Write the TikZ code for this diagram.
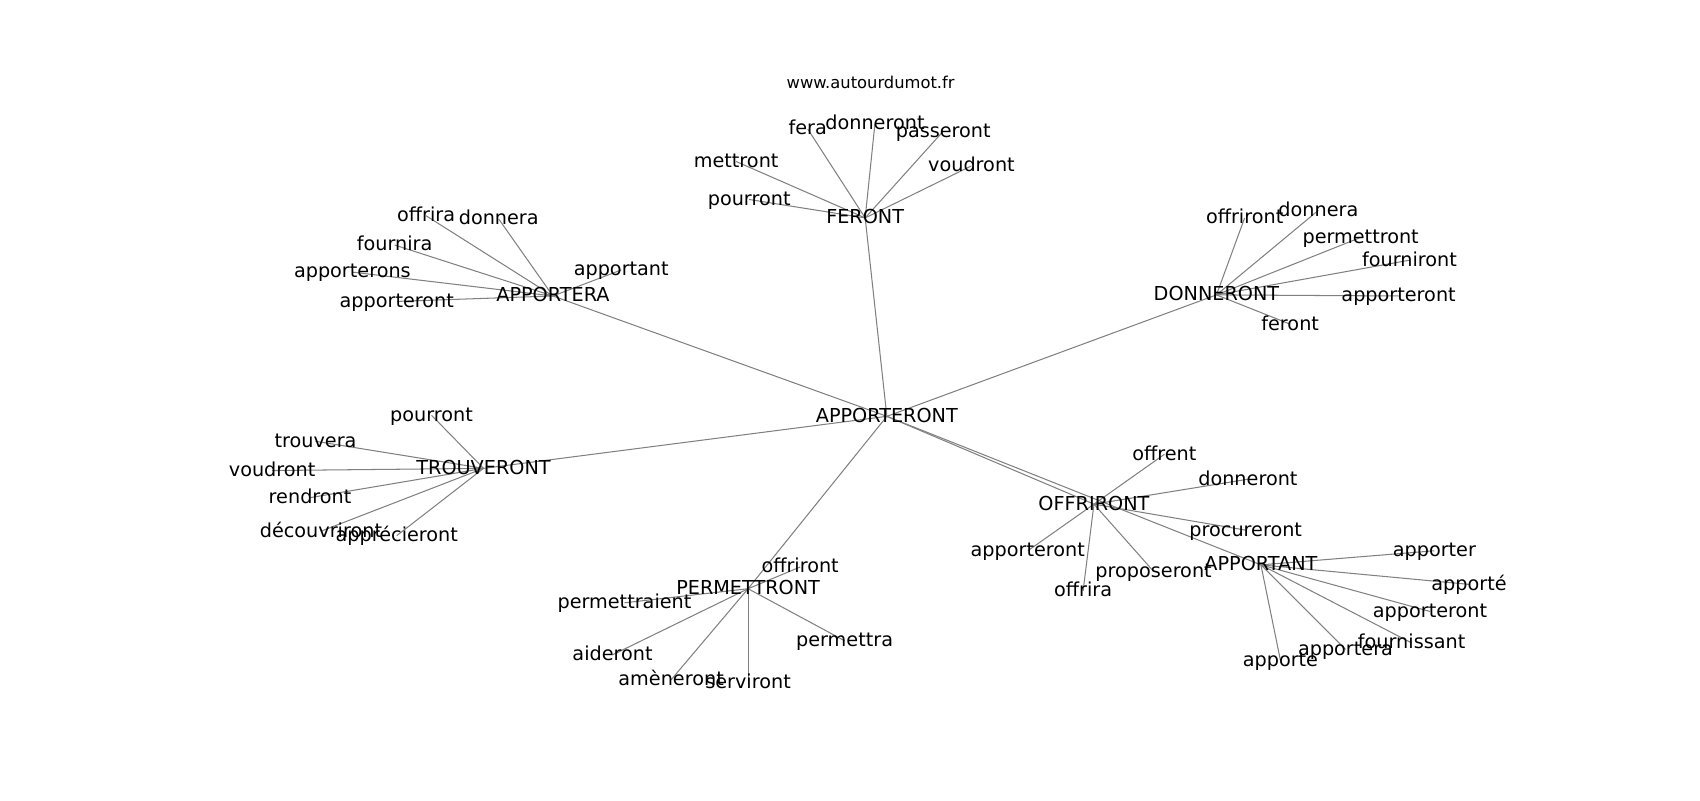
\documentclass[tikz,border=0pt]{standalone}
\usepackage{fontspec}
\setmainfont{DejaVu Sans}
\usetikzlibrary{backgrounds}

\begin{document}
\begin{tikzpicture}
  [x=0.02754cm,y=-0.02754cm,
   every node/.style={font=\fontsize{13.9}{16}\selectfont,inner sep=0pt,
     text height=1.85ex,text depth=.3ex},
   link/.style={draw=gray,line width=.75pt}]
  \useasboundingbox (0,0) rectangle (1568,738);

  \node (n8) at (803,76) {\fontsize{11.8}{14}\selectfont www.autourdumot.fr};

  \node (n0) at (818,384) {APPORTERONT};
  \node (n1) at (798,201) {FERONT};
  \node (n2) at (510,273) {APPORTERA};
  \node (n3) at (1122,272) {DONNERONT};
  \node (n4) at (446,432) {TROUVERONT};
  \node (n5) at (1009,465) {OFFRIRONT};
  \node (n6) at (690,543) {PERMETTRONT};
  \node (n7) at (1163,521) {APPORTANT};

  \node (n11) at (745,119) {fera};
  \node (n12) at (807,114) {donneront};
  \node (n13) at (870,121) {passeront};
  \node (n14) at (896,153) {voudront};
  \node (n15) at (679,149) {mettront};
  \node (n16) at (691,184) {pourront};

  \node (n21) at (393,199) {offrira};
  \node (n22) at (460,202) {donnera};
  \node (n23) at (364,226) {fournira};
  \node (n24) at (325,251) {apporterons};
  \node (n25) at (366,278) {apporteront};
  \node (n26) at (573,249) {apportant};

  \node (n31) at (1148,201) {offriront};
  \node (n32) at (1216,194) {donnera};
  \node (n33) at (1255,219) {permettront};
  \node (n34) at (1300,240) {fourniront};
  \node (n35) at (1290,273) {apporteront};
  \node (n36) at (1190,299) {feront};

  \node (n41) at (398,383) {pourront};
  \node (n42) at (291,407) {trouvera};
  \node (n43) at (251,434) {voudront};
  \node (n44) at (286,459) {rendront};
  \node (n45) at (296,490) {découvriront};
  \node (n46) at (366,494) {apprécieront};

  \node (n51) at (1074,419) {offrent};
  \node (n52) at (1151,442) {donneront};
  \node (n53) at (1149,489) {procureront};
  \node (n54) at (948,508) {apporteront};
  \node (n55) at (1064,527) {proposeront};
  \node (n56) at (999,545) {offrira};

  \node (n61) at (738,523) {offriront};
  \node (n62) at (576,556) {permettraient};
  \node (n63) at (565,604) {aideront};
  \node (n64) at (619,627) {amèneront};
  \node (n65) at (690,630) {serviront};
  \node (n66) at (779,591) {permettra};

  \node (n71) at (1323,508) {apporter};
  \node (n72) at (1355,539) {apporté};
  \node (n73) at (1319,564) {apporteront};
  \node (n74) at (1302,593) {fournissant};
  \node (n75) at (1241,599) {apportera};
  \node (n76) at (1181,609) {apporte};

  \begin{scope}[on background layer]
    \foreach \from/\to in {n0/n1,n0/n2,n0/n3,n0/n4,n0/n5,n0/n6,n0/n7,
        n1/n11,n1/n12,n1/n13,n1/n14,n1/n15,n1/n16,
        n2/n21,n2/n22,n2/n23,n2/n24,n2/n25,n2/n26,
        n3/n31,n3/n32,n3/n33,n3/n34,n3/n35,n3/n36,
        n4/n41,n4/n42,n4/n43,n4/n44,n4/n45,n4/n46,
        n5/n51,n5/n52,n5/n53,n5/n54,n5/n55,n5/n56,
        n6/n61,n6/n62,n6/n63,n6/n64,n6/n65,n6/n66,
        n7/n71,n7/n72,n7/n73,n7/n74,n7/n75,n7/n76}
      \draw[link] (\from.center) -- (\to.center);
  \end{scope}

\end{tikzpicture}
\end{document}
